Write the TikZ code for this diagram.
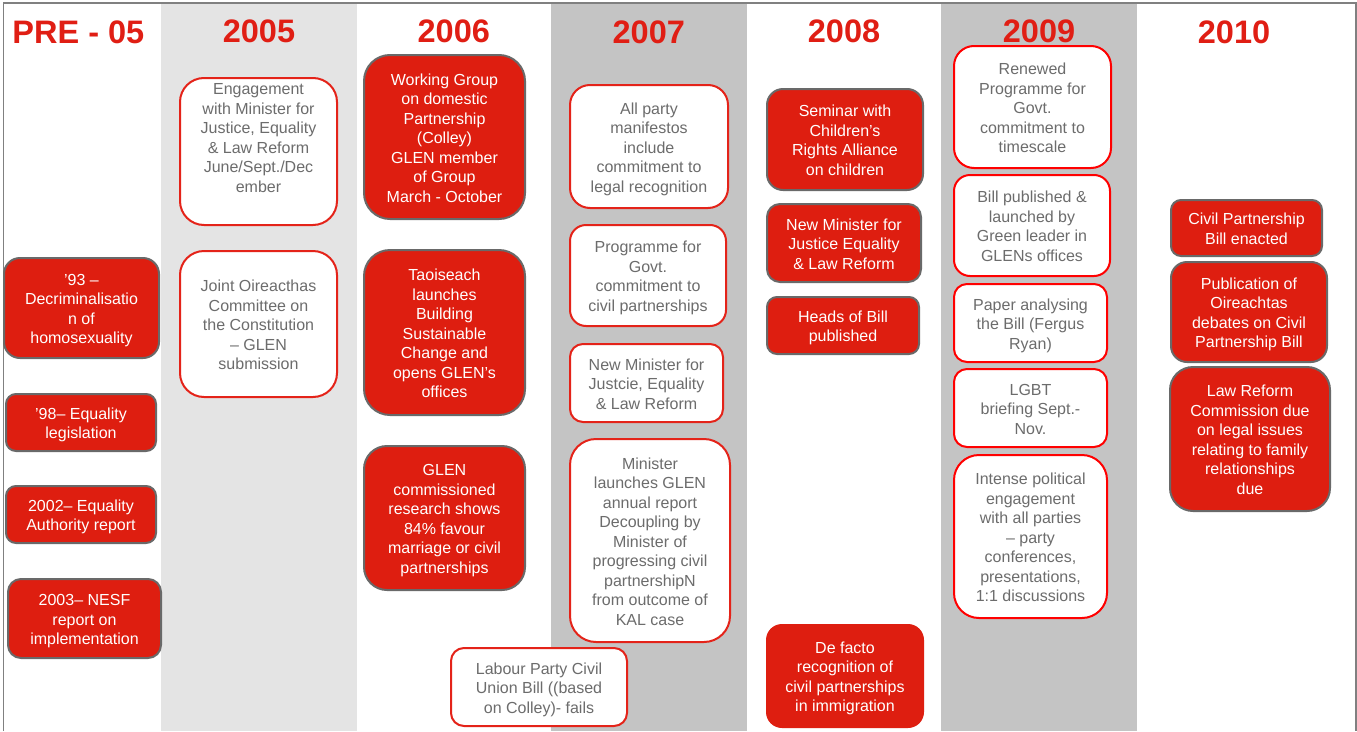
\documentclass[tikz,border=0pt]{standalone}
\usepackage{fontspec}
\setmainfont{Liberation Sans}
\definecolor{boxred}{RGB}{222,30,16}
\definecolor{titlered}{RGB}{224,30,20}
\definecolor{txtgray}{RGB}{108,108,108}
\definecolor{edgegray}{RGB}{105,105,105}
\definecolor{edgered}{RGB}{228,35,25}
\definecolor{lightcol}{RGB}{228,228,228}
\definecolor{darkcol}{RGB}{196,196,196}
\definecolor{framegray}{RGB}{128,128,128}
\newcommand\bx[1]{\rule{0pt}{18pt}#1\rule[-4.6pt]{0pt}{0pt}}
\begin{document}
\begin{tikzpicture}[x=1pt,y=-1pt,
  every node/.style={inner sep=0pt, outer sep=0pt},
  evt/.style={draw, line width=2pt, align=center, font=\fontsize{16}{19.5}\selectfont},
  redbox/.style={evt, fill=boxred, draw=edgegray, text=white},
  redplain/.style={evt, fill=boxred, draw=none, text=white},
  whitebox/.style={evt, fill=white, draw=edgered, text=txtgray},
  brightbox/.style={evt, fill=white, draw=red, text=txtgray},
  year/.style={font=\fontsize{32.5}{39}\selectfont\bfseries, text=titlered, anchor=base},
  sz/.style n args={3}{minimum width=#1pt, minimum height=#2pt, rounded corners=#3pt}
]
\useasboundingbox (0,0) rectangle (1357,731);
\fill[white] (0,0) rectangle (1357,731);
\fill[lightcol] (161,3) rectangle (357,731);
\fill[darkcol] (551,3) rectangle (747,731);
\fill[darkcol] (941,3) rectangle (1137,731);
\draw[framegray, line width=1.5pt] (3.3,731) -- (3.3,3) -- (1356,3) -- (1356,731);

% year titles
\node[year] (ypre) at (78.4,43) {PRE - 05};
\node[year] (y05) at (259,42) {2005};
\node[year] (y06) at (453.8,42) {2006};
\node[year] (y07) at (648.8,43.3) {2007};
\node[year] (y08) at (844,42) {2008};
\node[year] (y09) at (1039,42) {2009};
\node[year] (y10) at (1234,43) {2010};

% PRE - 05
\node[redbox, sz={155}{100}{16}] (n93) at (81.5,308) {\bx{’93 –\\Decriminalisatio\\n of\\homosexuality}};
\node[redbox, sz={150}{57}{10}] (n98) at (81,422.5) {\bx{’98– Equality\\legislation}};
\node[redbox, sz={150}{57}{10}] (n02) at (81,514.5) {\bx{2002– Equality\\Authority report}};
\node[redbox, sz={153}{79}{13}] (n03) at (84.5,618.5) {\bx{2003– NESF\\report on\\implementation}};

% 2005
\node[whitebox, sz={157}{147}{24}] (e05a) at (258.5,151.5) {};
\node[text=txtgray, align=center, font=\fontsize{16}{19.5}\selectfont, anchor=north] (e05at) at (258.5,83.5) {Engagement\\with Minister for\\Justice, Equality\\\& Law Reform\\June/Sept./Dec\\ember};
\node[whitebox, sz={157}{146}{24}] (e05b) at (258.5,324) {\bx{Joint Oireacthas\\Committee on\\the Constitution\\– GLEN\\submission}};

% 2006
\node[redbox, sz={161}{164}{26}] (e06a) at (444.5,137) {\bx{Working Group\\on domestic\\Partnership\\(Colley)\\GLEN member\\of Group\\March - October}};
\node[redbox, sz={161}{165}{26}] (e06b) at (444.5,332.5) {\bx{Taoiseach\\launches\\Building\\Sustainable\\Change and\\opens GLEN’s\\offices}};
\node[redbox, sz={161}{144}{23}] (e06c) at (444.5,518) {\bx{GLEN\\commissioned\\research shows\\84\% favour\\marriage or civil\\partnerships}};
\node[whitebox, sz={176}{78}{13}] (e06d) at (539,687) {\bx{Labour Party Civil\\Union Bill ((based\\on Colley)- fails}};

% 2007
\node[whitebox, sz={158}{123}{20}] (e07a) at (649,146.5) {\bx{All party\\manifestos\\include\\commitment to\\legal recognition}};
\node[whitebox, sz={156}{101}{16}] (e07b) at (648,275.5) {\bx{Programme for\\Govt.\\commitment to\\civil partnerships}};
\node[whitebox, sz={153}{78}{13}] (e07c) at (646.5,383) {\bx{New Minister for\\Justcie, Equality\\\& Law Reform}};
\node[whitebox, sz={160}{203}{26}] (e07d) at (650,540.5) {\bx{Minister\\launches GLEN\\annual report\\Decoupling by\\Minister of\\progressing civil\\partnershipN\\from outcome of\\KAL case}};

% 2008
\node[redbox, sz={156}{101}{16}] (e08a) at (845,139.5) {\bx{Seminar with\\Children’s\\Rights Alliance\\on children}};
\node[redbox, sz={154}{78}{13}] (e08b) at (844,243) {\bx{New Minister for\\Justice Equality\\\& Law Reform}};
\node[redbox, sz={152}{57}{10}] (e08c) at (843,325.5) {\bx{Heads of Bill\\published}};
\node[redplain, sz={158}{104}{16}] (e08d) at (845,676) {\bx{De facto\\recognition of\\civil partnerships\\in immigration}};

% 2009
\node[brightbox, sz={157}{122}{20}] (e09a) at (1032.5,107) {\bx{Renewed\\Programme for\\Govt.\\commitment to\\timescale}};
\node[brightbox, sz={156}{101}{16}] (e09b) at (1032,225.5) {\bx{Bill published \&\\launched by\\Green leader in\\GLENs offices}};
\node[brightbox, sz={153}{78}{13}] (e09c) at (1030.5,323) {\bx{Paper analysing\\the Bill (Fergus\\Ryan)}};
\node[brightbox, sz={153}{78}{13}] (e09d) at (1030.5,408) {\bx{LGBT\\briefing Sept.-\\Nov.}};
\node[brightbox, sz={153}{163}{25}] (e09e) at (1030.5,536.5) {\bx{Intense political\\engagement\\with all parties\\– party\\conferences,\\presentations,\\1:1 discussions}};

% 2010
\node[redbox, sz={151}{56}{10}] (e10a) at (1246.5,228) {\bx{Civil Partnership\\Bill enacted}};
\node[redbox, sz={156}{100}{16}] (e10b) at (1249,312) {\bx{Publication of\\Oireachtas\\debates on Civil\\Partnership Bill}};
\node[redbox, sz={160}{144}{23}] (e10c) at (1250,439) {\bx{Law Reform\\Commission due\\on legal issues\\relating to family\\relationships\\due}};
\end{tikzpicture}
\end{document}
